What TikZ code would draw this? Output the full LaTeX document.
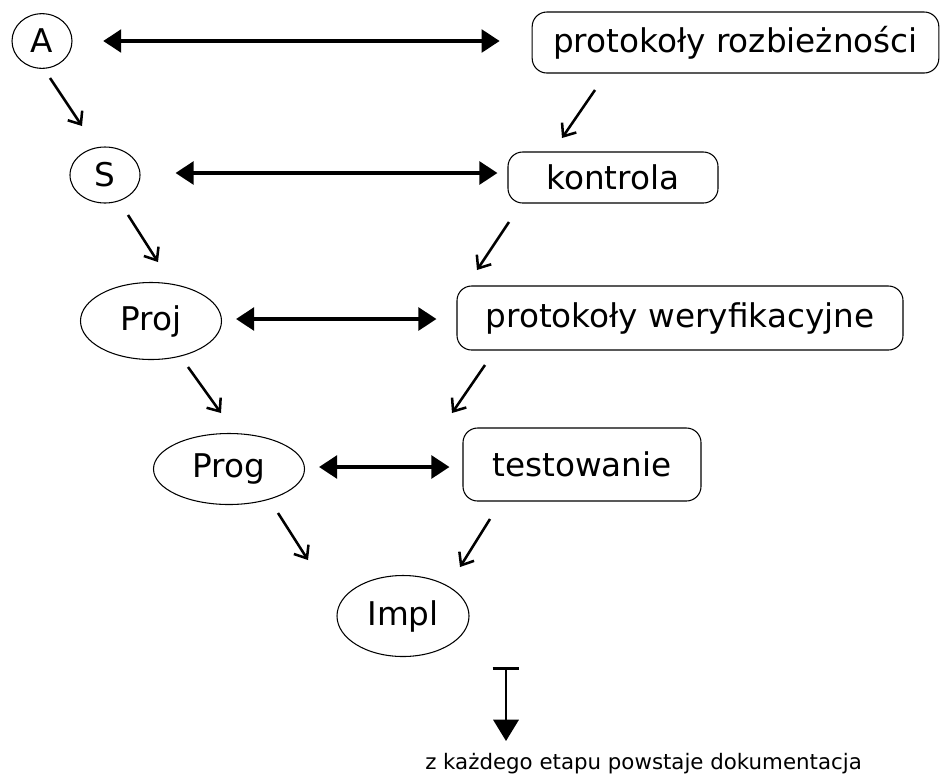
\documentclass[tikz,border=0pt]{standalone}
\usepackage{fontspec}
\setmainfont{DejaVu Sans}
\usetikzlibrary{shapes.geometric,arrows.meta,calc}
\begin{document}
\begin{tikzpicture}[x=0.75pt,y=-0.75pt,
  lbl/.style={font=\fontsize{24.5}{29}\selectfont},
  ell/.style={lbl,draw,ellipse,line width=0.8pt,inner sep=0pt},
  rbox/.style={lbl,draw,rounded corners=11pt,line width=0.8pt,inner sep=0pt},
  harrow/.style={line width=2.6pt,{Triangle[length=13.5pt,width=17pt]}-{Triangle[length=13.5pt,width=17pt]}},
  darrow/.style={line width=1.9pt,-{Straight Barb[length=8pt,width=13pt]}},
  tbar/.style={line width=1.9pt,{Bar[width=20pt]}-{Triangle[length=16pt,width=19pt]}}]
\useasboundingbox (0,0) rectangle (941,779);
% left column
\node[ell,minimum width=45pt,minimum height=41pt] (A) at (42,41) {A};
\node[ell,minimum width=52.5pt,minimum height=42pt] (S) at (105,175) {S};
\node[ell,minimum width=105.75pt,minimum height=57.75pt] (Proj) at (151,321) {Proj};
\node[ell,minimum width=113.25pt,minimum height=53.25pt] (Prog) at (229,469) {Prog};
\node[ell,minimum width=99pt,minimum height=60.75pt] (Impl) at (403,616) {Impl};
% right column
\node[rbox,minimum width=305pt,minimum height=45.75pt] (pr) at (735.5,42.5) {protokoły rozbieżności};
\node[rbox,minimum width=157.5pt,minimum height=38.25pt] (ko) at (613,177.5) {kontrola};
\node[rbox,minimum width=334.5pt,minimum height=48pt] (pw) at (680,318) {protokoły weryfikacyjne};
\node[rbox,minimum width=178.5pt,minimum height=54.75pt] (te) at (582,464.5) {testowanie};
% bottom text
\node[font=\fontsize{16}{19}\selectfont,inner sep=0pt] (doc) at (643.5,764) {z każdego etapu powstaje dokumentacja};
% horizontal arrows
\draw[harrow,shorten <=23pt,shorten >=24pt] (A.east) -- (A.east -| pr.west);
\draw[harrow,shorten <=26.25pt,shorten >=7.5pt] ($(S.east)+(0,-2)$) -- ($(S.east -| ko.west)+(0,-2)$);
\draw[harrow,shorten <=10.5pt,shorten >=15pt] ($(Proj.east)+(0,-2)$) -- ($(Proj.east -| pw.west)+(0,-2)$);
\draw[harrow,shorten <=10.5pt,shorten >=9.75pt] ($(Prog.east)+(0,-2)$) -- ($(Prog.east -| te.west)+(0,-2)$);
% diagonal arrows
\coordinate (a1) at (50,78);   \coordinate (a2) at (82,126);
\coordinate (b1) at (595,90);  \coordinate (b2) at (562,138);
\coordinate (c1) at (128,215); \coordinate (c2) at (158,262);
\coordinate (d1) at (509,222); \coordinate (d2) at (477,270);
\coordinate (e1) at (188,367); \coordinate (e2) at (221,413);
\coordinate (f1) at (485,365); \coordinate (f2) at (452,413);
\coordinate (g1) at (278,513); \coordinate (g2) at (308,560);
\coordinate (h1) at (490,519); \coordinate (h2) at (460,567);
\draw[darrow] (a1) -- (a2);
\draw[darrow] (b1) -- (b2);
\draw[darrow] (c1) -- (c2);
\draw[darrow] (d1) -- (d2);
\draw[darrow] (e1) -- (e2);
\draw[darrow] (f1) -- (f2);
\draw[darrow] (g1) -- (g2);
\draw[darrow] (h1) -- (h2);
% documentation arrow
\coordinate (t1) at (506,667);
\coordinate (t2) at (506,741);
\draw[tbar] (t1) -- (t2);
\end{tikzpicture}
\end{document}
